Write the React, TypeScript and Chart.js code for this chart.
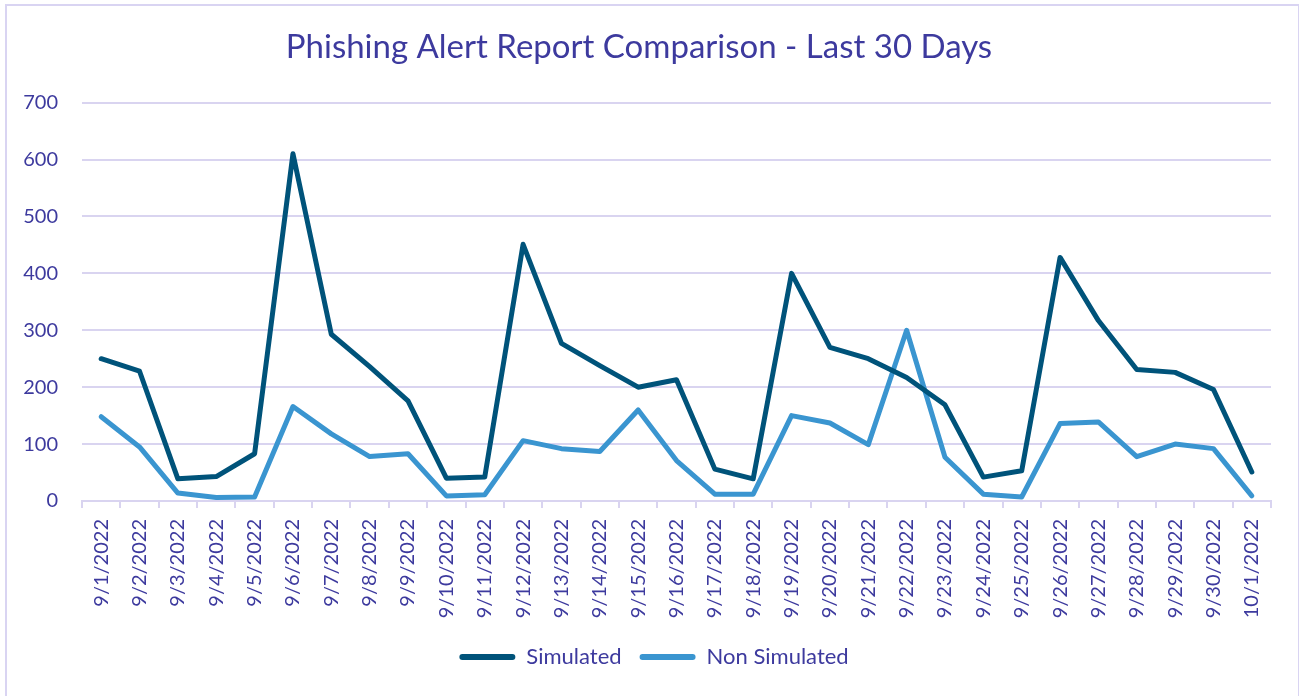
import React, { useEffect, useRef } from "react";
import { Chart, registerables } from "chart.js";

Chart.register(...registerables);

const dates = [
  "9/1/2022", "9/2/2022", "9/3/2022", "9/4/2022", "9/5/2022", "9/6/2022", "9/7/2022", "9/8/2022",
  "9/9/2022", "9/10/2022", "9/11/2022", "9/12/2022", "9/13/2022", "9/14/2022", "9/15/2022",
  "9/16/2022", "9/17/2022", "9/18/2022", "9/19/2022", "9/20/2022", "9/21/2022", "9/22/2022",
  "9/23/2022", "9/24/2022", "9/25/2022", "9/26/2022", "9/27/2022", "9/28/2022", "9/29/2022",
  "9/30/2022", "10/1/2022",
];

const simulated = [
  250, 228, 39, 43, 83, 610, 293, 236, 176, 40, 42, 451, 277, 238, 200, 213, 56, 39, 400, 270,
  250, 217, 169, 42, 53, 428, 317, 231, 226, 196, 51,
];

const nonSimulated = [
  148, 95, 14, 6, 7, 166, 118, 78, 83, 9, 11, 106, 92, 87, 160, 71, 12, 12, 150, 137, 99, 300,
  77, 12, 7, 136, 139, 78, 100, 92, 9,
];

const yTicks = [0, 100, 200, 300, 400, 500, 600, 700];

const TEXT = "#3D3A9E";
const GRID = "#D9D4F0";
const FONT = "Lato, 'Open Sans', sans-serif";

const legendShift = {
  id: "legendShift",
  afterLayout(chart: any) {
    if (chart.legend) {
      chart.legend.left += 15;
      chart.legend.right += 15;
    }
  },
};

export default function App() {
  const ref = useRef<HTMLCanvasElement | null>(null);

  useEffect(() => {
    if (!ref.current) return;
    const chart = new Chart(ref.current, {
      type: "line",
      data: {
        labels: dates,
        datasets: [
          {
            label: "Simulated",
            data: simulated,
            borderColor: "#00537A",
            backgroundColor: "#00537A",
            borderWidth: 5,
            pointRadius: 0,
            borderJoinStyle: "round",
            borderCapStyle: "round",
            tension: 0,
          },
          {
            label: "Non Simulated",
            data: nonSimulated,
            borderColor: "#3A95D0",
            backgroundColor: "#3A95D0",
            borderWidth: 5,
            pointRadius: 0,
            borderJoinStyle: "round",
            borderCapStyle: "round",
            tension: 0,
          },
        ],
      },
      plugins: [legendShift],
      options: {
        animation: false,
        responsive: false,
        maintainAspectRatio: false,
        layout: { padding: { left: 0, right: 27, top: 0, bottom: 16 } },
        plugins: {
          title: {
            display: true,
            text: "Phishing Alert Report Comparison - Last 30 Days",
            color: TEXT,
            font: { family: FONT, size: 33, weight: "normal" },
            padding: { top: 22, bottom: 35 },
          },
          legend: {
            position: "bottom",
            labels: {
              color: TEXT,
              font: { family: FONT, size: 22 },
              boxWidth: 56,
              boxHeight: 6,
              padding: 18,
              useBorderRadius: true,
              borderRadius: 3,
              generateLabels: (c: any) =>
                c.data.datasets.map((ds: any, i: number) => ({
                  text: ds.label,
                  fillStyle: ds.borderColor,
                  strokeStyle: ds.borderColor,
                  lineWidth: 0,
                  fontColor: TEXT,
                  hidden: false,
                  datasetIndex: i,
                  borderRadius: 3,
                })),
            },
          },
          tooltip: { enabled: false },
        },
        scales: {
          x: {
            offset: true,
            grid: {
              offset: true,
              drawOnChartArea: false,
              drawTicks: true,
              tickLength: 7,
              color: GRID,
              lineWidth: 2,
            },
            border: { color: GRID, width: 2 },
            ticks: {
              color: TEXT,
              font: { family: FONT, size: 20 },
              minRotation: 90,
              maxRotation: 90,
              autoSkip: false,
              padding: 11,
            },
            afterFit: (scale: any) => {
              scale.height = 127;
            },
          },
          y: {
            min: 0,
            max: 700,
            afterBuildTicks: (scale: any) => {
              scale.ticks = yTicks.map((v) => ({ value: v }));
            },
            grid: { color: GRID, lineWidth: 2, drawTicks: false },
            border: { display: false },
            ticks: {
              color: TEXT,
              font: { family: FONT, size: 20 },
              padding: 24,
            },
            afterFit: (scale: any) => {
              scale.width = 75;
            },
          },
        },
      },
    });
    return () => chart.destroy();
  }, []);

  return (
    <div
      style={{
        position: "absolute",
        left: 5,
        top: 4,
        width: 1291,
        height: 700,
        border: "2px solid #D9D4F2",
        background: "#fff",
      }}
    >
      <canvas ref={ref} width={1291} height={688} style={{ display: "block" }} />
    </div>
  );
}
